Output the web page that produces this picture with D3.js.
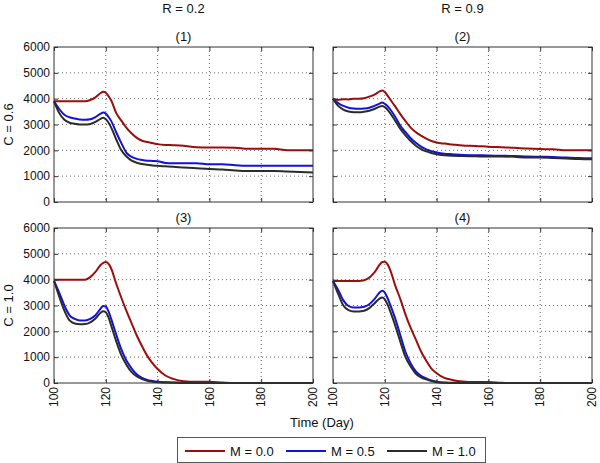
<!DOCTYPE html>
<html>
<head>
<meta charset="utf-8">
<script src="https://cdn.jsdelivr.net/npm/d3@7"></script>
<style>
  body { margin: 0; background: white; }
  text { font-family: "Liberation Sans", Arial, sans-serif; fill: #111; }
</style>
</head>
<body>
<div id="chartDIV"></div>
<script>

var colorList = ["#9c0d0d", "#1212dc", "#2b2b2b"]
var seriesNames = ["M = 0.0", "M = 0.5", "M = 1.0"]
var colTitles = ["R = 0.2", "R = 0.9"]
var rowTitles = ["C = 0.6", "C = 1.0"]
var panelTitles = ["(1)", "(2)", "(3)", "(4)"]
var xTicks = [100, 120, 140, 160, 180, 200]
var yTicks = [0, 1000, 2000, 3000, 4000, 5000, 6000]

var days = [100,102,104,106,108,110,112,114,116,118,119,120,121,122,124,126,128,130,132,134,136,138,140,143,146,150,155,160,165,170,175,180,185,190,195,200]

// panel (1)  R = 0.2, C = 0.6
var p1M0 = [3900,3900,3900,3900,3900,3900,3900,3950,4050,4220,4270,4230,4100,3950,3450,3150,2870,2650,2480,2370,2320,2280,2240,2210,2200,2180,2120,2110,2110,2100,2060,2060,2060,2000,2000,2000]
var p1M5 = [3900,3600,3380,3280,3230,3190,3180,3200,3290,3420,3460,3420,3300,3150,2700,2280,1900,1750,1670,1630,1600,1590,1580,1510,1500,1500,1500,1460,1460,1420,1400,1400,1400,1400,1400,1400]
var p1M10 = [3900,3450,3180,3070,3030,3000,3000,3020,3100,3220,3260,3200,3080,2900,2430,2000,1760,1600,1520,1470,1440,1410,1400,1380,1360,1340,1310,1280,1260,1220,1200,1200,1200,1180,1160,1140]

// panel (2)  R = 0.9, C = 0.6
var p2M0 = [4000,3950,3980,3970,4000,4000,4020,4080,4160,4280,4320,4260,4130,3980,3700,3400,3130,2880,2700,2570,2450,2360,2300,2260,2230,2190,2170,2140,2120,2100,2070,2050,2040,2000,2000,2000]
var p2M5 = [4000,3830,3720,3650,3620,3610,3620,3650,3720,3810,3850,3800,3720,3600,3300,2950,2700,2470,2290,2140,2040,1970,1920,1870,1850,1820,1810,1800,1790,1780,1760,1750,1740,1720,1700,1690]
var p2M10 = [4000,3720,3580,3500,3470,3470,3490,3530,3600,3690,3720,3670,3580,3450,3150,2830,2580,2360,2180,2050,1960,1900,1850,1810,1790,1780,1770,1760,1760,1750,1720,1720,1700,1680,1660,1650]

// panel (3)  R = 0.2, C = 1.0
var p3M0 = [4000,4000,4000,4000,4000,4000,4000,4100,4300,4570,4650,4680,4620,4450,3850,3300,2780,2300,1830,1420,1050,770,540,290,160,70,50,50,20,0,0,0,0,0,0,0]
var p3M5 = [3950,3500,3000,2620,2480,2420,2420,2480,2620,2880,2980,2960,2780,2500,1880,1300,860,560,330,200,120,80,50,30,20,10,0,0,0,0,0,0,0,0,0,0]
var p3M10 = [3950,3350,2800,2420,2300,2270,2280,2350,2500,2720,2780,2740,2550,2250,1620,1080,700,420,250,150,90,50,30,20,10,0,0,0,0,0,0,0,0,0,0,0]

// panel (4)  R = 0.9, C = 1.0
var p4M0 = [3950,3950,3950,3950,3950,3950,3980,4080,4280,4580,4680,4690,4600,4400,3780,3250,2650,2130,1680,1220,860,560,380,200,120,60,40,40,10,0,0,0,0,0,0,0]
var p4M5 = [3950,3600,3200,2980,2920,2920,2950,3050,3250,3500,3570,3500,3300,3050,2500,1850,1200,760,450,280,180,100,50,20,10,0,0,0,0,0,0,0,0,0,0,0]
var p4M10 = [3950,3450,3000,2820,2770,2770,2800,2900,3080,3270,3310,3240,3050,2800,2230,1600,1000,640,360,220,140,80,30,10,0,0,0,0,0,0,0,0,0,0,0,0]

var panelData = [[p1M0, p1M5, p1M10], [p2M0, p2M5, p2M10], [p3M0, p3M5, p3M10], [p4M0, p4M5, p4M10]]

var W = 600
var H = 463
var colX = [54, 333]
var rowY = [47, 228]
var pw = 259
var ph = 155

var svg = d3.select("#chartDIV").append("svg")
  .attr("width", W)
  .attr("height", H)

svg.append("rect")
  .attr("width", W)
  .attr("height", H)
  .attr("fill", "white")

var x = d3.scaleLinear().domain([100, 200]).range([0, pw])
var y = d3.scaleLinear().domain([0, 6000]).range([ph, 0])

function drawPanel(k)
{
  var col = k % 2
  var row = Math.floor(k / 2)
  var g = svg.append("g")
    .attr("transform", "translate(" + colX[col] + "," + rowY[row] + ")")

  // dotted grid
  g.selectAll(".vgrid")
    .data(xTicks.slice(1, -1))
    .enter()
    .append("line")
    .attr("x1", function(d) { return x(d) })
    .attr("x2", function(d) { return x(d) })
    .attr("y1", 0)
    .attr("y2", ph)
    .attr("stroke", "#666")
    .attr("stroke-dasharray", "1,3")

  g.selectAll(".hgrid")
    .data(yTicks.slice(1, -1))
    .enter()
    .append("line")
    .attr("x1", 0)
    .attr("x2", pw)
    .attr("y1", function(d) { return y(d) })
    .attr("y2", function(d) { return y(d) })
    .attr("stroke", "#666")
    .attr("stroke-dasharray", "1,3")

  // curves
  var line = d3.line()
    .x(function(d, i) { return x(days[i]) })
    .y(function(d) { return y(d) })
    .curve(d3.curveMonotoneX)

  g.selectAll(".series")
    .data(panelData[k])
    .enter()
    .append("path")
    .attr("d", function(d) { return line(d) })
    .attr("fill", "none")
    .attr("stroke", function(d, i) { return colorList[i] })
    .attr("stroke-width", 2)
    .attr("stroke-linejoin", "round")

  // axes with inward ticks
  var xb = g.append("g").attr("transform", "translate(0," + ph + ")")
    .call(d3.axisTop(x).tickValues(xTicks).tickSize(4).tickFormat(""))
  var xt = g.append("g")
    .call(d3.axisBottom(x).tickValues(xTicks).tickSize(4).tickFormat(""))
  var yl = g.append("g")
    .call(d3.axisRight(y).tickValues(yTicks).tickSize(4).tickFormat(""))
  var yr = g.append("g").attr("transform", "translate(" + pw + ",0)")
    .call(d3.axisLeft(y).tickValues(yTicks).tickSize(4).tickFormat(""))
  g.selectAll(".domain").remove()
  g.selectAll(".tick line").attr("stroke", "#333")

  g.append("rect")
    .attr("width", pw)
    .attr("height", ph)
    .attr("fill", "none")
    .attr("stroke", "#333")
    .attr("stroke-width", 1)

  // labels
  if (col == 0)
  {
    g.selectAll(".ylab")
      .data(yTicks)
      .enter()
      .append("text")
      .attr("x", -4)
      .attr("y", function(d) { return y(d) })
      .attr("dy", "0.35em")
      .attr("text-anchor", "end")
      .style("font-size", "12px")
      .text(function(d) { return d })

    g.append("text")
      .attr("transform", "translate(-46," + (ph / 2) + ") rotate(-90)")
      .attr("dy", "0.35em")
      .attr("text-anchor", "middle")
      .style("font-size", "13px")
      .text(rowTitles[row])
  }
  if (row == 1)
  {
    g.selectAll(".xlab")
      .data(xTicks)
      .enter()
      .append("text")
      .attr("transform", function(d) { return "translate(" + x(d) + "," + (ph + 4) + ") rotate(-90)" })
      .attr("dy", "0.35em")
      .attr("text-anchor", "end")
      .style("font-size", "12px")
      .text(function(d) { return d })
  }
  if (row == 0)
  {
    g.append("text")
      .attr("x", pw / 2)
      .attr("y", -39)
      .attr("dy", "0.35em")
      .attr("text-anchor", "middle")
      .style("font-size", "13px")
      .text(colTitles[col])
  }
  g.append("text")
    .attr("x", pw / 2)
    .attr("y", -11)
    .attr("dy", "0.35em")
    .attr("text-anchor", "middle")
    .style("font-size", "13px")
    .text(panelTitles[k])
}

for (var k = 0; k < 4; k++)
{
  drawPanel(k)
}

svg.append("text")
  .attr("x", 322)
  .attr("y", 422)
  .attr("dy", "0.35em")
  .attr("text-anchor", "middle")
  .style("font-size", "13px")
  .text("Time (Day)")

// legend
var legend = svg.append("g").attr("transform", "translate(177,437)")
legend.append("rect")
  .attr("x", 0.5)
  .attr("y", 0.5)
  .attr("width", 308)
  .attr("height", 25)
  .attr("fill", "white")
  .attr("stroke", "#555")

var legItem = legend.selectAll(".legItem")
  .data(seriesNames)
  .enter()
  .append("g")
  .attr("transform", function(d, i) { return "translate(" + (8 + i * 101) + ",14)" })

legItem.append("line")
  .attr("x1", 0)
  .attr("x2", 40)
  .attr("stroke", function(d, i) { return colorList[i] })
  .attr("stroke-width", 2)

legItem.append("text")
  .attr("x", 45)
  .attr("dy", "0.35em")
  .style("font-size", "13px")
  .text(function(d) { return d })

</script>
</body>
</html>
